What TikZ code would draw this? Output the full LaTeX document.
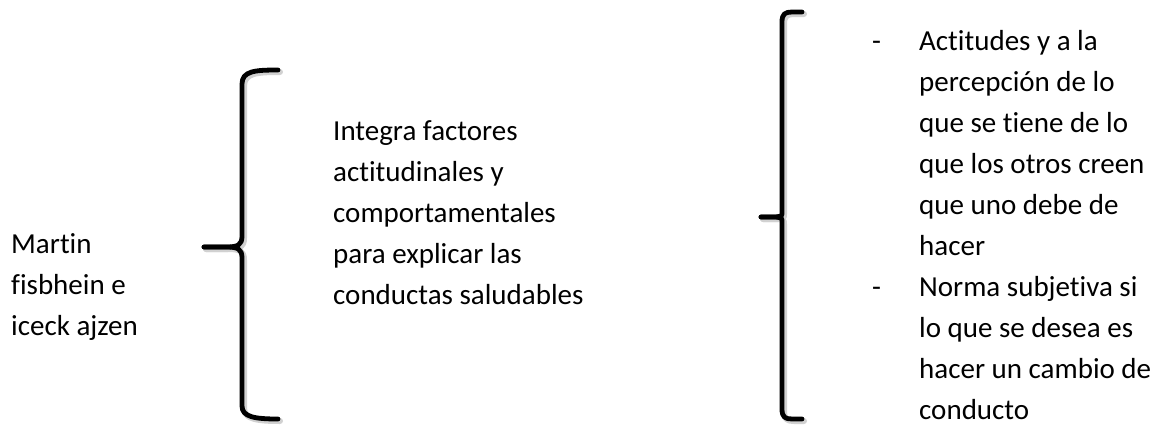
\documentclass[tikz,border=0pt]{standalone}
\usepackage{fontspec}
\setmainfont{Carlito}[Ligatures=NoCommon]
\begin{document}
\begin{tikzpicture}[x=1pt,y=-1pt,
  txt/.style={anchor=base west, inner sep=0pt, font=\fontsize{29}{41}\selectfont},
  bracepath/.style={line width=4.8pt, line cap=round, line join=round, draw=black},
  braceshadow/.style={line width=6pt, line cap=round, line join=round, draw=black!18}]
\useasboundingbox (0,0) rectangle (1168,426);
% texts
\node[txt] (author) at (11,253) {\begin{tabular}[t]{@{}l@{}}Martin\\ fisbhein e\\ iceck ajzen\end{tabular}};
\node[txt] (desc) at (333,140) {\begin{tabular}[t]{@{}l@{}}Integra factores\\ actitudinales y\\ comportamentales\\ para explicar las\\ conductas saludables\end{tabular}};
\node[txt] (items) at (872,50) {\begin{tabular}[t]{@{}p{47pt}@{}l@{}}-& Actitudes y a la\\ & percepción de lo\\ & que se tiene de lo\\ & que los otros creen\\ & que uno debe de\\ & hacer\\ -& Norma subjetiva si\\ & lo que se desea es\\ & hacer un cambio de\\ & conducto\end{tabular}};
% brace shadows
\begin{scope}[shift={(2,2)}]
\draw[braceshadow] (278,70) .. controls (255,70) and (242,71) .. (242,84) -- (242,236) .. controls (242,245) and (238,247) .. (226,247) -- (204,247);
\draw[braceshadow] (204,247) -- (226,247) .. controls (238,247) and (242,249) .. (242,258) -- (242,406) .. controls (242,417) and (255,419) .. (278,419);
\draw[braceshadow] (802,12) -- (792,12) .. controls (785,12) and (782,14) .. (782,22) -- (782,212) .. controls (782,216) .. (776,217) -- (761,217);
\draw[braceshadow] (761,217) -- (776,217) .. controls (782,218) .. (782,222) -- (782,409) .. controls (782,417) and (785,419) .. (792,419) -- (802,419);
\end{scope}
% left brace
\draw[bracepath] (278,70) .. controls (255,70) and (242,71) .. (242,84) -- (242,236) .. controls (242,245) and (238,247) .. (226,247) -- (204,247);
\draw[bracepath] (204,247) -- (226,247) .. controls (238,247) and (242,249) .. (242,258) -- (242,406) .. controls (242,417) and (255,419) .. (278,419);
% right brace
\draw[bracepath] (802,12) -- (792,12) .. controls (785,12) and (782,14) .. (782,22) -- (782,212) .. controls (782,216) .. (776,217) -- (761,217);
\draw[bracepath] (761,217) -- (776,217) .. controls (782,218) .. (782,222) -- (782,409) .. controls (782,417) and (785,419) .. (792,419) -- (802,419);
\end{tikzpicture}
\end{document}
